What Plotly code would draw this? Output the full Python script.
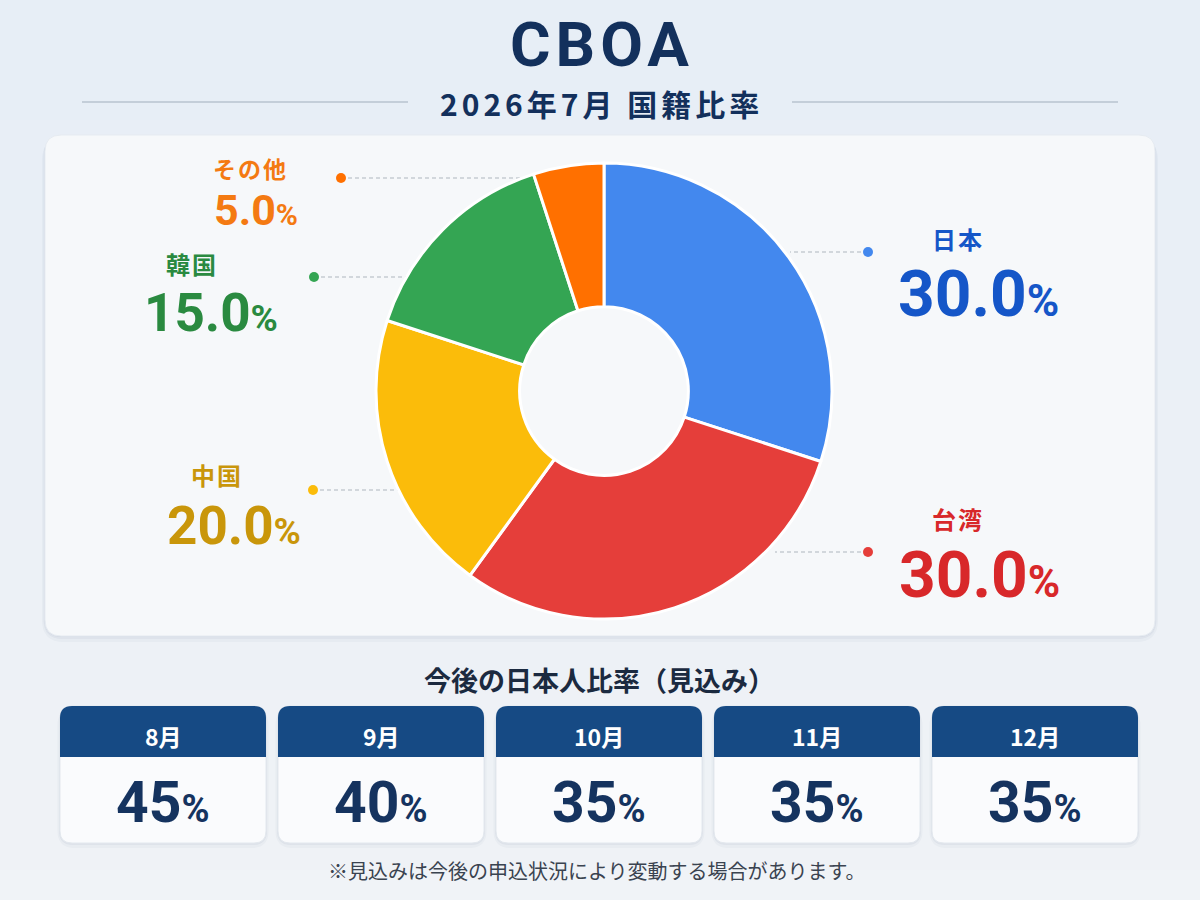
import plotly.graph_objects as go

# ---------------- data ----------------
countries = ["日本", "台湾", "中国", "韓国", "その他"]
shares = [30.0, 30.0, 20.0, 15.0, 5.0]
months = ["8月", "9月", "10月", "11月", "12月"]
jp_forecast = [45, 40, 35, 35, 35]
title_text = "CBOA"
subtitle_text = "2026年7月 国籍比率"
section_text = "今後の日本人比率（見込み）"
footnote_text = "※見込みは今後の申込状況により変動する場合があります。"

# ---------------- style / layout ----------------
W, H = 1200, 900
FONT = "Noto Sans CJK JP"
NUMFONT = "Roboto"
NAVY = "#13305C"
slice_colors = ["#4388EE", "#E53E3A", "#FBBC0A", "#34A553", "#FF7000"]
text_colors = ["#1556C8", "#D8282A", "#C9960A", "#2A8A40", "#F47A12"]

# pie geometry (pixels)
CX, CY, R = 604, 391, 228

# label layout: (label x, label glyph-center y, label size, value x, value digit-center y, value size, pct size)
label_layout = [
    (958, 240, 24, 978, 294, 64, 44),
    (958, 520, 24, 979, 575, 64, 44),
    (217, 476, 24, 234, 525, 53, 37),
    (192, 265, 24, 211, 312, 53, 37),
    (250, 169, 23, 256, 209, 43, 30),
]
# leader: (dot x, dot y, line end x)
leader_layout = [
    (868, 252, 790),
    (868, 552, 775),
    (313, 490, 405),
    (314, 277, 412),
    (341, 178, 520),
]


def rrect(x0, y0, x1, y1, r, top_only=False):
    if top_only:
        return (f"M{x0},{y1} L{x0},{y0+r} Q{x0},{y0} {x0+r},{y0} L{x1-r},{y0} "
                f"Q{x1},{y0} {x1},{y0+r} L{x1},{y1} Z")
    return (f"M{x0+r},{y0} L{x1-r},{y0} Q{x1},{y0} {x1},{y0+r} L{x1},{y1-r} "
            f"Q{x1},{y1} {x1-r},{y1} L{x0+r},{y1} Q{x0},{y1} {x0},{y1-r} "
            f"L{x0},{y0+r} Q{x0},{y0} {x0+r},{y0} Z")


fig = go.Figure()

shapes = []
# background gradient bands
bands = 30
for i in range(bands):
    t = i / (bands - 1)
    r_ = int(231 + (240 - 231) * t)
    g_ = int(238 + (243 - 238) * t)
    b_ = int(246 + (247 - 246) * t)
    shapes.append(dict(type="rect", xref="x", yref="y", x0=0, x1=W,
                       y0=H * i / bands, y1=H * (i + 1) / bands + 1,
                       fillcolor=f"rgb({r_},{g_},{b_})", line=dict(width=0), layer="below"))

# subtitle side lines
shapes.append(dict(type="line", xref="x", yref="y", x0=82, x1=408, y0=102, y1=102,
                   line=dict(color="#B9C3CF", width=1.5), layer="below"))
shapes.append(dict(type="line", xref="x", yref="y", x0=792, x1=1118, y0=102, y1=102,
                   line=dict(color="#B9C3CF", width=1.5), layer="below"))

# main card with shadow
for off, a in [(6, 0.03), (3, 0.04), (1, 0.05)]:
    shapes.append(dict(type="path", xref="x", yref="y",
                       path=rrect(45 - off / 2, 135 + off / 2, 1155 + off / 2, 636 + off, 16 + off),
                       fillcolor=f"rgba(30,60,110,{a})", line=dict(width=0), layer="below"))
shapes.append(dict(type="path", xref="x", yref="y", path=rrect(45, 135, 1155, 636, 16),
                   fillcolor="#F6F8FA", line=dict(color="#E6EBF1", width=1), layer="below"))

# forecast cards
CARD_W, CARD_STEP, CARD_X0 = 206, 218, 60
CARD_Y0, CARD_Y1, HEAD_Y1 = 706, 843, 757
for i in range(len(months)):
    x0 = CARD_X0 + i * CARD_STEP
    x1 = x0 + CARD_W
    for off, a in [(5, 0.03), (2, 0.05)]:
        shapes.append(dict(type="path", xref="x", yref="y",
                           path=rrect(x0 - off / 2, CARD_Y0 + off / 2, x1 + off / 2, CARD_Y1 + off, 12 + off),
                           fillcolor=f"rgba(30,60,110,{a})", line=dict(width=0), layer="below"))
    shapes.append(dict(type="path", xref="x", yref="y", path=rrect(x0, CARD_Y0, x1, CARD_Y1, 12),
                       fillcolor="#FAFBFD", line=dict(color="#E3E8EE", width=1), layer="below"))
    shapes.append(dict(type="path", xref="x", yref="y", path=rrect(x0, CARD_Y0, x1, HEAD_Y1, 12, top_only=True),
                       fillcolor="#164A84", line=dict(width=0), layer="below"))

# leader lines and dots
for i, (dx, dy, ex) in enumerate(leader_layout):
    fig.add_trace(go.Scatter(x=[dx, ex], y=[dy, dy], mode="lines",
                             line=dict(color="#AEB5BE", width=1.2, dash="4px,3px"),
                             hoverinfo="skip", showlegend=False))
    fig.add_trace(go.Scatter(x=[dx], y=[dy], mode="markers",
                             marker=dict(color=slice_colors[i], size=10, line=dict(width=0)),
                             hoverinfo="skip", showlegend=False))

# donut
fig.add_trace(go.Pie(
    labels=countries, values=shares, sort=False, direction="clockwise", rotation=0,
    hole=0.37, textinfo="none", hoverinfo="label+percent", showlegend=False,
    marker=dict(colors=slice_colors, line=dict(color="white", width=3)),
    domain=dict(x=[(CX - R) / W, (CX + R) / W], y=[1 - (CY + R) / H, 1 - (CY - R) / H]),
))

annotations = []


def ann(x, y, text, size, color, family=FONT, xanchor="center"):
    annotations.append(dict(x=x, y=y, xref="x", yref="y", text=text, showarrow=False,
                            xanchor=xanchor, yanchor="middle", align="center",
                            borderpad=0, borderwidth=0,
                            font=dict(family=family, size=size, color=color)))


ann(602, 44, f"<b><span style='letter-spacing:5px'>{title_text}</span></b>", 62, NAVY,
    family="Roboto, " + FONT)
ann(601, 102.5, f"<b><span style='letter-spacing:4px'>{subtitle_text}</span></b>", 30, NAVY)

for i, c in enumerate(countries):
    lx, lc, ls, vx, vc, vs, ps = label_layout[i]
    # CJK glyph center sits ~1.4px below the text box center in Noto Sans CJK
    ann(lx, lc - 0.055 * ls, f"<b><span style='letter-spacing:2px'>{c}</span></b>", ls, text_colors[i])
    # Roboto digit center is ~0.013 em above the text box center
    ann(vx, vc + 0.0135 * vs,
        f"<b>{shares[i]:.1f}</b><span style='font-size:{ps}px'><b>%</b></span>",
        vs, text_colors[i], family=NUMFONT + ", " + FONT)

ann(599, 679, f"<b>{section_text}</b>", 27, "#1B2A40")

for i, m in enumerate(months):
    cxp = CARD_X0 + i * CARD_STEP + CARD_W / 2
    ann(cxp, 736, f"<b>{m}</b>", 23, "white")
    ann(cxp, 802, f"<b>{jp_forecast[i]}</b><span style='font-size:38px'><b>%</b></span>", 57, "#15335F",
        family=NUMFONT + ", " + FONT)

ann(597, 870, footnote_text, 20, "#3A4350")

fig.update_layout(
    width=W, height=H, margin=dict(l=0, r=0, t=0, b=0),
    paper_bgcolor="#EDF2F7", plot_bgcolor="rgba(0,0,0,0)",
    xaxis=dict(range=[0, W], visible=False, fixedrange=True, domain=[0, 1]),
    yaxis=dict(range=[H, 0], visible=False, fixedrange=True, domain=[0, 1]),
    shapes=shapes, annotations=annotations, showlegend=False,
)

fig.write_html("out.html")
